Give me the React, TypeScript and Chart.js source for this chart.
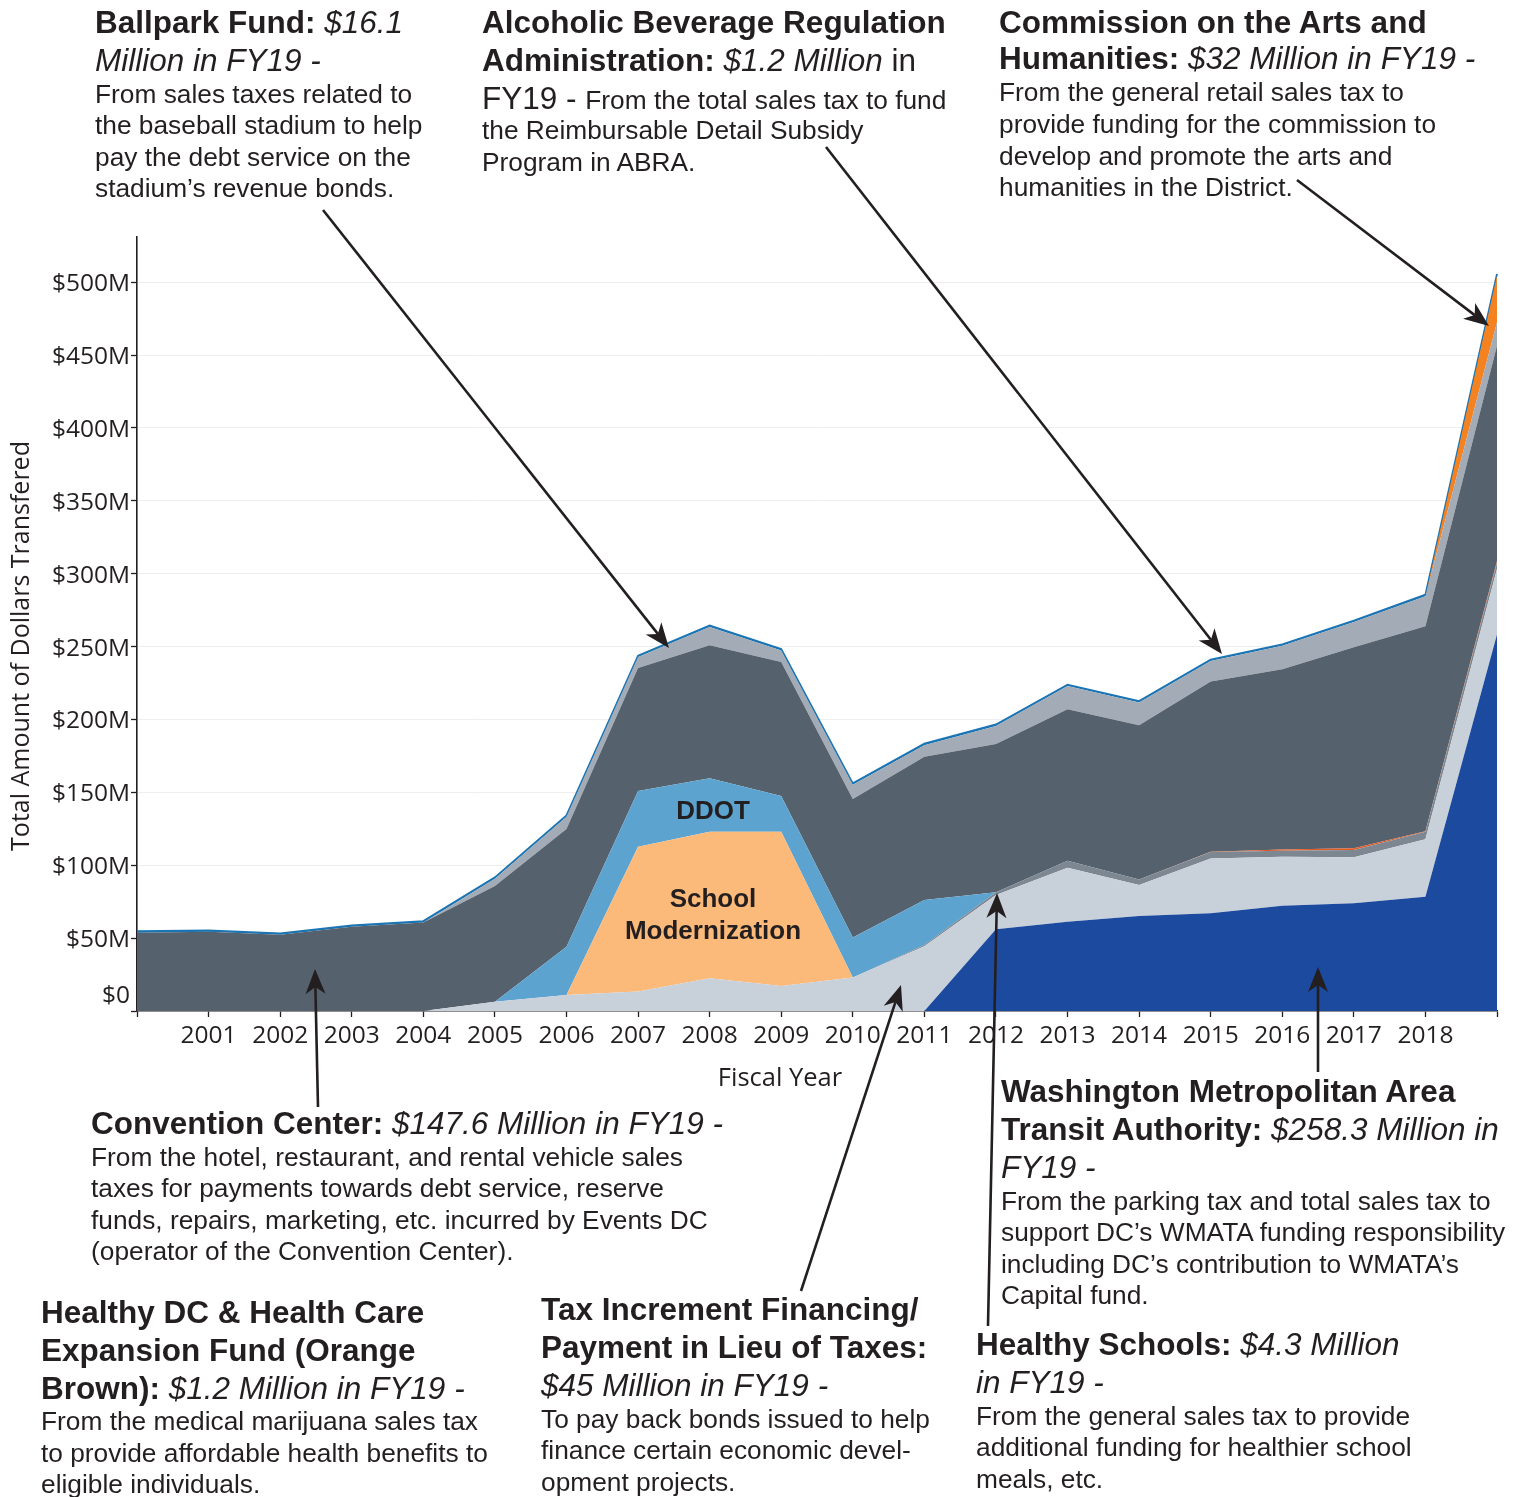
import React, { useEffect, useRef } from 'react';
import { Chart, registerables } from 'chart.js';

Chart.register(...registerables);

// ---------- DATA (millions of dollars, FY2000 .. FY2019) ----------
const years = ['2000', '2001', '2002', '2003', '2004', '2005', '2006', '2007', '2008', '2009',
  '2010', '2011', '2012', '2013', '2014', '2015', '2016', '2017', '2018', '2019'];

const wmata = [0, 0, 0, 0, 0, 0, 0, 0, 0, 0, 0, 0, 56.0, 61.2, 65.2, 67.0, 72.2, 73.9, 78.4, 258.3];
const tifPilot = [0, 0, 0, 0, 0, 6.4, 11.0, 13.3, 22.4, 17.1, 22.9, 44.5, 23.6, 37.1, 21.2, 37.7, 33.6, 31.5, 39.4, 45.0];
const healthySchools = [0, 0, 0, 0, 0, 0, 0, 0, 0, 0, 0, 0.8, 1.9, 4.8, 3.9, 4.3, 4.1, 5.0, 5.2, 4.3];
const schoolModernization = [0, 0, 0, 0, 0, 0, 0, 99.4, 100.6, 105.9, 0, 0, 0, 0, 0, 0, 0, 0, 0, 0];
const ddot = [0, 0, 0, 0, 0, 0, 33.1, 38.2, 36.6, 24.5, 27.6, 30.8, 0, 0, 0, 0, 0, 0, 0, 0];
const healthyDC = [0, 0, 0, 0, 0, 0, 0, 0, 0, 0, 0, 0, 0, 0, 0, 0.2, 0.9, 1.2, 0.3, 1.2];
const conventionCenter = [53.7, 54.3, 52.3, 57.8, 60.7, 79.3, 80.7, 84.4, 91.4, 91.9, 94.9, 98.3, 101.6, 104.0, 105.7, 116.8, 123.6, 137.9, 140.7, 147.6];
const ballpark = [0, 0, 0, 0, 0, 5.0, 8.4, 7.5, 12.5, 8.0, 9.8, 8.0, 12.5, 15.8, 15.6, 14.1, 16.1, 17.3, 20.6, 16.1];
const artsHumanities = [0, 0, 0, 0, 0, 0, 0, 0, 0, 0, 0, 0, 0, 0, 0, 0, 0, 0, 0, 32.0];
const abra = [1.0, 1.0, 1.0, 1.0, 1.0, 1.0, 1.0, 1.0, 1.0, 1.0, 1.0, 1.0, 1.0, 1.0, 1.0, 1.0, 1.0, 1.0, 1.0, 1.2];

const yTickValues = [0, 50, 100, 150, 200, 250, 300, 350, 400, 450, 500];
const shownYearLabels = years.slice(1, 19);

const layers = [
  { label: 'Washington Metropolitan Area Transit Authority', data: wmata, color: '#1c4a9f' },
  { label: 'Tax Increment Financing/PILOT', data: tifPilot, color: '#c8d0da' },
  { label: 'Healthy Schools', data: healthySchools, color: '#7c8792' },
  { label: 'School Modernization', data: schoolModernization, color: '#fbb97a' },
  { label: 'DDOT', data: ddot, color: '#5da3cf' },
  { label: 'Healthy DC & Health Care Expansion Fund', data: healthyDC, color: '#e25a26' },
  { label: 'Convention Center', data: conventionCenter, color: '#55616d' },
  { label: 'Ballpark Fund', data: ballpark, color: '#a3abb7' },
  { label: 'Commission on the Arts and Humanities', data: artsHumanities, color: '#f58220' },
  { label: 'Alcoholic Beverage Regulation Administration', data: abra, color: '#1b75b4' },
];

const TEXT = '#231f20';
const AXIS_FONT = '"Open Sans", "Noto Sans", sans-serif';
const ANNO_FONT = '"Liberation Sans", Arial, Helvetica, sans-serif';

const axisTextPlugin = {
  id: 'axisText',
  afterDraw(chart: any) {
    const ctx = chart.ctx;
    const ys = chart.scales.y;
    const xs = chart.scales.x;
    ctx.save();
    ctx.fillStyle = TEXT;
    ctx.font = `24.5px ${AXIS_FONT}`;
    ctx.textAlign = 'right';
    ctx.textBaseline = 'middle';
    yTickValues.forEach((v) => {
      const py = ys.getPixelForValue(v) + (v === 0 ? -15 : 2);
      ctx.fillText(v === 0 ? '$0' : `$${v}M`, 130, py);
    });
    ctx.textAlign = 'center';
    years.forEach((yr, i) => {
      if (shownYearLabels.includes(yr)) ctx.fillText(yr, xs.getPixelForValue(i), 1036);
    });
    ctx.font = `25.5px ${AXIS_FONT}`;
    ctx.fillText('Fiscal Year', 780, 1079);
    ctx.font = `25px ${AXIS_FONT}`;
    ctx.translate(22, 646);
    ctx.rotate(-Math.PI / 2);
    ctx.fillText('Total Amount of Dollars Transfered', 0, 0);
    ctx.restore();
  },
};

type Seg = { t: string; b?: boolean; i?: boolean; s?: number };
type LineDef = { y: number; segs: Seg[] };
type Block = { x: number; lines: LineDef[] };

const T = 31.5;
const B = 26.3;
const body = (y: number, t: string): LineDef => ({ y, segs: [{ t, s: B }] });

const blocks: Block[] = [
  {
    x: 95, lines: [
      { y: 22, segs: [{ t: 'Ballpark Fund: ', b: true }, { t: '$16.1', i: true }] },
      { y: 60, segs: [{ t: 'Million in FY19 -', i: true }] },
      body(94, 'From sales taxes related to'),
      body(125, 'the baseball stadium to help'),
      body(157, 'pay the debt service on the'),
      body(188, 'stadium’s revenue bonds.'),
    ],
  },
  {
    x: 482, lines: [
      { y: 22, segs: [{ t: 'Alcoholic Beverage Regulation', b: true }] },
      { y: 60, segs: [{ t: 'Administration: ', b: true }, { t: '$1.2 Million', i: true }, { t: ' in' }] },
      { y: 98, segs: [{ t: 'FY19 - ' }, { t: 'From the total sales tax to fund', s: B }] },
      body(130, 'the Reimbursable Detail Subsidy'),
      body(162, 'Program in ABRA.'),
    ],
  },
  {
    x: 999, lines: [
      { y: 22, segs: [{ t: 'Commission on the Arts and', b: true }] },
      { y: 58, segs: [{ t: 'Humanities: ', b: true }, { t: '$32 Million in FY19 -', i: true }] },
      body(92, 'From the general retail sales tax to'),
      body(124, 'provide funding for the commission to'),
      body(156, 'develop and promote the arts and'),
      body(187, 'humanities in the District.'),
    ],
  },
  {
    x: 91, lines: [
      { y: 1123, segs: [{ t: 'Convention Center: ', b: true }, { t: '$147.6 Million in FY19 -', i: true }] },
      body(1157, 'From the hotel, restaurant, and rental vehicle sales'),
      body(1188, 'taxes for payments towards debt service, reserve'),
      body(1220, 'funds, repairs, marketing, etc. incurred by Events DC'),
      body(1251, '(operator of the Convention Center).'),
    ],
  },
  {
    x: 41, lines: [
      { y: 1312, segs: [{ t: 'Healthy DC & Health Care', b: true }] },
      { y: 1350, segs: [{ t: 'Expansion Fund (Orange', b: true }] },
      { y: 1388, segs: [{ t: 'Brown): ', b: true }, { t: '$1.2 Million in FY19 -', i: true }] },
      body(1421, 'From the medical marijuana sales tax'),
      body(1453, 'to provide affordable health benefits to'),
      body(1484, 'eligible individuals.'),
    ],
  },
  {
    x: 541, lines: [
      { y: 1309, segs: [{ t: 'Tax Increment Financing/', b: true }] },
      { y: 1347, segs: [{ t: 'Payment in Lieu of Taxes:', b: true }] },
      { y: 1385, segs: [{ t: '$45 Million in FY19 -', i: true }] },
      body(1419, 'To pay back bonds issued to help'),
      body(1450, 'finance certain economic devel-'),
      body(1482, 'opment projects.'),
    ],
  },
  {
    x: 1001, lines: [
      { y: 1091, segs: [{ t: 'Washington Metropolitan Area', b: true }] },
      { y: 1129, segs: [{ t: 'Transit Authority: ', b: true }, { t: '$258.3 Million in', i: true }] },
      { y: 1167, segs: [{ t: 'FY19 -', i: true }] },
      body(1201, 'From the parking tax and total sales tax to'),
      body(1232, 'support DC’s WMATA funding responsibility'),
      body(1264, 'including DC’s contribution to WMATA’s'),
      body(1295, 'Capital fund.'),
    ],
  },
  {
    x: 976, lines: [
      { y: 1344, segs: [{ t: 'Healthy Schools: ', b: true }, { t: '$4.3 Million', i: true }] },
      { y: 1382, segs: [{ t: 'in FY19 -', i: true }] },
      body(1416, 'From the general sales tax to provide'),
      body(1447, 'additional funding for healthier school'),
      body(1479, 'meals, etc.'),
    ],
  },
];

const arrows: { from: [number, number]; to: [number, number] }[] = [
  { from: [323, 210], to: [669, 648] },
  { from: [826, 147], to: [1222, 654] },
  { from: [1297, 180], to: [1489, 326] },
  { from: [318, 1107], to: [315, 969] },
  { from: [801, 1291], to: [901, 985] },
  { from: [988, 1326], to: [997, 893] },
  { from: [1318, 1072], to: [1318, 967] },
];

function Arrow({ from, to }: { from: [number, number]; to: [number, number] }) {
  const dx = to[0] - from[0];
  const dy = to[1] - from[1];
  const len = Math.hypot(dx, dy);
  const ux = dx / len;
  const uy = dy / len;
  const nx = -uy;
  const ny = ux;
  const L = 25;
  const Wd = 10;
  const notch = 18;
  const bx = to[0] - ux * L;
  const by = to[1] - uy * L;
  const mx = to[0] - ux * notch;
  const my = to[1] - uy * notch;
  const pts = `${to[0]},${to[1]} ${bx + nx * Wd},${by + ny * Wd} ${mx},${my} ${bx - nx * Wd},${by - ny * Wd}`;
  return (
    <g>
      <line x1={from[0]} y1={from[1]} x2={mx} y2={my} stroke={TEXT} strokeWidth={2.6} />
      <polygon points={pts} fill={TEXT} />
    </g>
  );
}

function TextBlock({ block }: { block: Block }) {
  return (
    <>
      {block.lines.map((ln, k) => {
        const base = ln.segs[0].s ?? T;
        const lh = 40;
        return (
          <div
            key={k}
            style={{
              position: 'absolute',
              left: block.x,
              top: ln.y - lh / 2,
              height: lh,
              lineHeight: `${lh}px`,
              fontSize: base,
              whiteSpace: 'nowrap',
              fontFamily: ANNO_FONT,
              color: TEXT,
            }}
          >
            {ln.segs.map((sg, j) => (
              <span
                key={j}
                style={{
                  fontSize: sg.s ?? T,
                  fontWeight: sg.b ? 'bold' : 'normal',
                  fontStyle: sg.i ? 'italic' : 'normal',
                  whiteSpace: 'pre',
                }}
              >
                {sg.t}
              </span>
            ))}
          </div>
        );
      })}
    </>
  );
}

export default function App() {
  const canvasRef = useRef<HTMLCanvasElement | null>(null);

  useEffect(() => {
    if (!canvasRef.current) return;
    const datasets = layers.map((ly, i) => ({
      label: ly.label,
      data: ly.data,
      backgroundColor: ly.color,
      borderColor: i === layers.length - 1 ? ly.color : 'rgba(0,0,0,0)',
      borderWidth: i === layers.length - 1 ? 1.8 : 0,
      fill: i === 0 ? 'origin' : '-1',
      pointRadius: 0,
      pointHoverRadius: 0,
      tension: 0,
    }));
    const chart = new Chart(canvasRef.current, {
      type: 'line',
      data: { labels: years, datasets },
      options: {
        animation: false,
        responsive: false,
        devicePixelRatio: 1,
        events: [],
        layout: { padding: { top: 237, right: 26, left: 0, bottom: 0 } },
        plugins: {
          legend: { display: false },
          tooltip: { enabled: false },
        },
        scales: {
          x: {
            type: 'category',
            offset: false,
            grid: {
              drawOnChartArea: false,
              drawTicks: true,
              tickLength: 6,
              tickColor: TEXT,
              tickWidth: 1.3,
            },
            border: { color: TEXT, width: 1.6 },
            ticks: { display: false, autoSkip: false },
            afterFit: (s: any) => { s.height = 486; },
          },
          y: {
            type: 'linear',
            stacked: true,
            min: 0,
            max: 531,
            grid: {
              color: (c: any) => (c.tick && c.tick.value === 0 ? 'rgba(0,0,0,0)' : '#eeeeee'),
              lineWidth: 1,
              drawTicks: true,
              tickLength: 6,
              tickColor: TEXT,
              tickWidth: 1.3,
            },
            border: { color: TEXT, width: 1.6 },
            ticks: { display: false, stepSize: 50 },
            afterBuildTicks: (s: any) => {
              s.ticks = s.ticks.filter((t: any) => yTickValues.includes(t.value));
            },
            afterFit: (s: any) => { s.width = 137; },
          },
        },
      },
      plugins: [axisTextPlugin],
    } as any);
    return () => chart.destroy();
  }, []);

  return (
    <div style={{ position: 'absolute', left: 0, top: 0, width: 1523, height: 1497, overflow: 'hidden', background: '#fff' }}>
      <canvas ref={canvasRef} width={1523} height={1497} style={{ position: 'absolute', left: 0, top: 0, width: 1523, height: 1497 }} />
      {blocks.map((b, i) => <TextBlock key={i} block={b} />)}
      {[
        { t: 'DDOT', y: 810 },
        { t: 'School', y: 898 },
        { t: 'Modernization', y: 930 },
      ].map((l, i) => (
        <div
          key={i}
          style={{
            position: 'absolute', left: 613, width: 200, top: l.y - 16, height: 32, lineHeight: '32px',
            textAlign: 'center', fontFamily: ANNO_FONT, fontWeight: 'bold', fontSize: 26, color: TEXT,
          }}
        >
          {l.t}
        </div>
      ))}
      <svg width={1523} height={1497} style={{ position: 'absolute', left: 0, top: 0, pointerEvents: 'none' }}>
        {arrows.map((a, i) => <Arrow key={i} from={a.from} to={a.to} />)}
      </svg>
    </div>
  );
}
